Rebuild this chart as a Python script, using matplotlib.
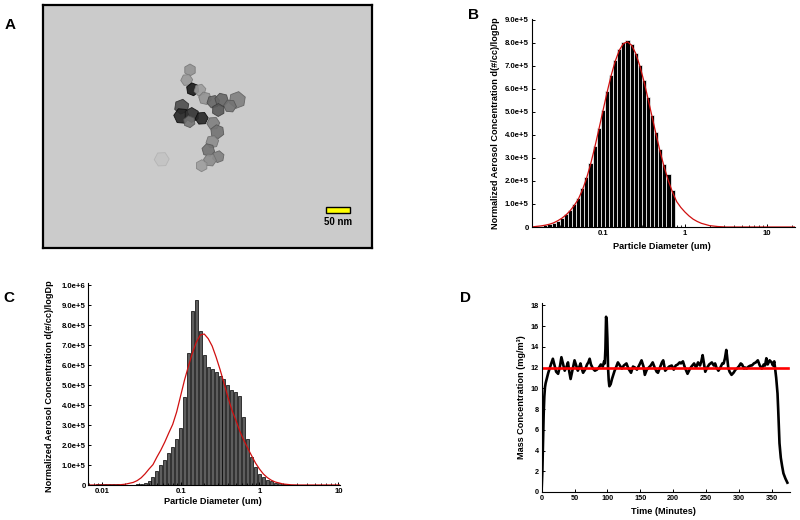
import numpy as np
import matplotlib
matplotlib.use("Agg")
import matplotlib.pyplot as plt
from matplotlib.patches import RegularPolygon, Rectangle

plt.rcParams['font.family'] = ['Liberation Sans', 'DejaVu Sans']
plt.rcParams['font.weight'] = 'bold'

# ---------------- data ----------------
# Panel A: TEM micrograph, particle aggregate (image pixel coords, size, grey level)
A_px = [147, 143.7, 149.7, 157, 162, 138.7, 138.7, 148.7, 158.7, 146.3, 170.3, 178.7,
        194.3, 187, 175.3, 170.3, 174.3, 169.3, 165.3, 175.3, 167, 158.7, 118.7]
A_py = [65, 75, 84.3, 85, 93.3, 101.7, 111, 110, 113.3, 116.7, 96.7, 95,
        95, 101, 105, 118.3, 126.7, 136.7, 145, 151.7, 155, 160.7, 154.3]
A_pd = [12, 12, 13, 12, 13, 15, 16, 15, 13, 12, 13, 14,
        17, 13, 13, 13, 14, 13, 13, 12, 13, 12, 15]
A_grey = [0.58, 0.6, 0.1, 0.62, 0.58, 0.3, 0.15, 0.2, 0.15, 0.45, 0.4, 0.4,
          0.5, 0.45, 0.35, 0.5, 0.45, 0.55, 0.45, 0.5, 0.55, 0.62, 0.74]
A_scale_text = "50 nm"

# Panel B: size distribution (log10 of bin centre diameter, um), 20 channels/decade
B_logd = np.round(np.arange(-1.80, -0.149, 0.05), 2)
B_conc = [0.03, 0.05, 0.08, 0.12, 0.19, 0.28, 0.40, 0.55, 0.74, 0.98,
          1.28, 1.68, 2.18, 2.80, 3.52, 4.30, 5.10, 5.90, 6.62, 7.25,
          7.72, 8.05, 8.12, 7.95, 7.58, 7.05, 6.40, 5.65, 4.88, 4.12,
          3.38, 2.75, 2.30, 1.62]  # x 1e5
B_fit_logd = [-1.87, -1.80, -1.75, -1.70, -1.65, -1.60, -1.55, -1.50, -1.45, -1.40,
              -1.35, -1.30, -1.25, -1.20, -1.15, -1.10, -1.05, -1.00, -0.95, -0.90,
              -0.85, -0.80, -0.75, -0.70, -0.65, -0.60, -0.55, -0.50, -0.45, -0.40,
              -0.35, -0.30, -0.25, -0.20, -0.15, -0.10, -0.05, 0.00, 0.05, 0.10,
              0.15, 0.20, 0.30, 0.40, 0.50, 1.34]
B_fit = [0.0, 0.03, 0.05, 0.08, 0.12, 0.18, 0.27, 0.38, 0.52, 0.70,
         0.93, 1.20, 1.60, 2.10, 2.72, 3.44, 4.22, 5.03, 5.83, 6.57,
         7.20, 7.68, 7.97, 8.05, 7.90, 7.55, 7.01, 6.34, 5.58, 4.79,
         4.00, 3.24, 2.57, 1.99, 1.50, 1.10, 0.85, 0.65, 0.48, 0.34,
         0.24, 0.16, 0.06, 0.02, 0.0, 0.0]

# Panel C
C_logd = np.round(np.arange(-2.05, 0.351, 0.05), 2)
C_conc = [0.05, 0.06, 0.06, 0.05, 0.05, 0.03, 0.0, 0.0, 0.0, 0.02,
          0.03, 0.06, 0.12, 0.22, 0.42, 0.68, 0.98, 1.25, 1.58, 1.92,
          2.3, 2.85, 4.4, 6.6, 8.7, 9.25, 7.7, 6.5, 5.9, 5.8,
          5.65, 5.45, 5.3, 5.0, 4.75, 4.65, 4.45, 3.4, 2.3, 1.4,
          0.9, 0.55, 0.38, 0.25, 0.18, 0.12, 0.08, 0.04, 0.02]  # x 1e5
C_fit_logd = [-2.17, -1.80, -1.70, -1.60, -1.55, -1.50, -1.45, -1.40, -1.35, -1.30,
              -1.25, -1.20, -1.15, -1.10, -1.05, -1.00, -0.95, -0.90, -0.85, -0.80,
              -0.75, -0.70, -0.65, -0.60, -0.55, -0.50, -0.45, -0.40, -0.35, -0.30,
              -0.25, -0.20, -0.15, -0.10, -0.05, 0.00, 0.05, 0.10, 0.15, 0.20,
              0.30, 0.40, 0.50, 1.02]
C_fit = [0.0, 0.0, 0.04, 0.13, 0.22, 0.36, 0.56, 0.80, 1.02, 1.40,
         1.75, 2.15, 2.60, 3.03, 3.65, 4.45, 5.25, 5.95, 6.60, 7.15,
         7.50, 7.55, 7.32, 6.95, 6.40, 5.78, 5.10, 4.40, 3.75, 3.25,
         2.70, 2.25, 1.85, 1.47, 1.10, 0.80, 0.55, 0.37, 0.24, 0.15,
         0.05, 0.01, 0.0, 0.0]

dist_xticks = [0.01, 0.1, 1, 10]
dist_xticklabels = ["0.01", "0.1", "1", "10"]
B_yticklabels = ["0", "1.0e+5", "2.0e+5", "3.0e+5", "4.0e+5", "5.0e+5",
                 "6.0e+5", "7.0e+5", "8.0e+5", "9.0e+5"]
C_yticklabels = B_yticklabels + ["1.0e+6"]

# Panel D: mass concentration time series
D_time = [0, 1, 2, 3, 4, 5, 6, 8, 10, 12,
          14, 17, 20, 22, 25, 28, 30, 33, 35, 38,
          40, 42, 44, 47, 50, 52, 55, 57, 59, 61,
          63, 66, 69, 71, 73, 75, 78, 81, 84, 87,
          90, 93, 95, 96, 97, 98, 99, 100, 101, 102,
          103, 105, 107, 109, 111, 113, 116, 119, 122, 125,
          129, 132, 136, 139, 142, 145, 149, 152, 155, 157,
          160, 163, 166, 169, 172, 175, 177, 180, 183, 185,
          188, 191, 194, 198, 201, 204, 207, 210, 212, 215,
          218, 222, 225, 228, 232, 235, 238, 241, 243, 245,
          247, 249, 252, 255, 259, 262, 264, 266, 269, 272,
          275, 277, 279, 281, 282, 284, 286, 289, 292, 295,
          297, 300, 303, 305, 308, 310, 312, 315, 318, 320,
          323, 326, 329, 332, 335, 338, 340, 342, 344, 347,
          350, 352, 354, 355, 357, 359, 360, 361, 362, 364,
          366, 368, 371, 374]
D_mass = [0.4, 2.0, 5.0, 7.5, 9.2, 10.1, 10.5, 11.0, 11.5, 11.9,
          12.3, 12.85, 12.1, 11.6, 11.4, 12.2, 13.0, 12.2, 11.7, 12.1,
          12.5, 11.6, 10.9, 11.8, 12.7, 12.3, 11.7, 12.0, 12.4, 11.9,
          11.5, 11.8, 12.3, 12.5, 12.85, 12.3, 11.9, 11.7, 11.8, 12.0,
          12.3, 12.1, 12.6, 12.4, 13.8, 16.9, 16.5, 14.8, 12.0, 10.8,
          10.2, 10.4, 10.9, 11.3, 11.7, 12.0, 12.5, 12.2, 11.9, 12.2,
          12.4, 11.9, 11.5, 12.1, 12.0, 11.8, 12.3, 12.7, 12.1, 11.3,
          11.8, 12.0, 12.2, 12.5, 12.0, 11.6, 11.5, 12.0, 12.5, 12.7,
          11.7, 11.9, 12.1, 12.2, 11.8, 12.2, 12.3, 12.5, 12.4, 12.6,
          12.0, 11.4, 11.8, 12.1, 12.4, 12.0, 12.5, 12.2, 12.6, 13.2,
          12.4, 11.6, 12.0, 12.3, 12.5, 12.2, 12.4, 12.0, 11.7, 12.0,
          12.4, 12.4, 12.9, 13.7, 13.2, 12.0, 11.6, 11.3, 11.5, 11.8,
          11.9, 12.1, 12.4, 12.3, 11.9, 12.0, 11.9, 12.1, 12.2, 12.2,
          12.4, 12.5, 12.7, 12.2, 11.9, 12.3, 12.2, 12.9, 12.3, 12.7,
          12.5, 12.2, 12.6, 12.1, 11.0, 9.5, 8.0, 6.2, 4.7, 3.3,
          2.5, 1.8, 1.3, 0.9]
D_target = 12.0
D_target_span = [0, 375]
D_xticks = [0, 50, 100, 150, 200, 250, 300, 350]
D_yticks = [0, 2, 4, 6, 8, 10, 12, 14, 16, 18]

# ---------------- figure ----------------
W, H = 800, 520
fig = plt.figure(figsize=(8, 5.2), dpi=100)


def rect(l, t, r, b):
    return [l / W, 1 - b / H, (r - l) / W, (b - t) / H]


def ftext(x, y, s, **kw):
    fig.text(x / W, 1 - y / H, s, ha='center', va='center', **kw)


# Panel A
axA = fig.add_axes(rect(43, 5, 372, 248))
axA.set_facecolor('#cbcbcb')
axA.set_xlim(0, 329)
axA.set_ylim(243, 0)
axA.set_xticks([])
axA.set_yticks([])
for s in axA.spines.values():
    s.set_linewidth(1.6)
    s.set_color('black')
for i, (x, y, d, g) in enumerate(zip(A_px, A_py, A_pd, A_grey)):
    axA.add_patch(RegularPolygon((x, y), numVertices=6, radius=d / 2,
                                 orientation=0.45 * i,
                                 facecolor=str(g), edgecolor=str(max(g - 0.12, 0)),
                                 lw=0.6, alpha=0.45 if g > 0.7 else 0.9))
axA.add_patch(Rectangle((283, 202.3), 24, 6, facecolor='#ffff00',
                        edgecolor='black', lw=1.0))
axA.text(295, 217, A_scale_text, ha='center', va='center', fontsize=7,
         fontweight='bold')


def style_axes(ax, lsize):
    ax.spines['top'].set_visible(False)
    ax.spines['right'].set_visible(False)
    for s in ('left', 'bottom'):
        ax.spines[s].set_linewidth(0.8)
    ax.tick_params(which='major', direction='in', length=2.5, width=0.7,
                   labelsize=lsize, pad=2)
    ax.tick_params(which='minor', direction='in', length=1.5, width=0.6)


def log_minor(lo, hi):
    out = []
    for e in range(lo, hi):
        for m in range(2, 10):
            out.append(m * 10.0 ** e)
    return out


# Panel B
axB = fig.add_axes(rect(531.7, 18.8, 795, 227))
axB.set_xscale('log')
bl = 10 ** (B_logd - 0.025)
br = 10 ** (B_logd + 0.025)
axB.bar(bl, B_conc, width=br - bl, align='edge', color='black',
        edgecolor='white', linewidth=0.5)
axB.plot(10 ** np.array(B_fit_logd), B_fit, color='#d01010', lw=0.9)
axB.set_xticks(dist_xticks[1:])
axB.set_xticklabels(dist_xticklabels[1:])
axB.set_xticks(log_minor(-2, 2), minor=True)
axB.set_xticklabels([], minor=True)
axB.set_yticks(range(10))
axB.set_yticklabels(B_yticklabels)
axB.set_xlim(0.0136, 21.9)
axB.set_ylim(0, 9.05)
style_axes(axB, 5.6)

# Panel C
axC = fig.add_axes(rect(88.3, 283.3, 340, 485))
axC.set_xscale('log')
cl = 10 ** (C_logd - 0.019)
cr = 10 ** (C_logd + 0.019)
axC.bar(cl, C_conc, width=cr - cl, align='edge', color='#5e5e5e',
        edgecolor='black', linewidth=0.5)
axC.plot(10 ** np.array(C_fit_logd), C_fit, color='#d01010', lw=0.9)
axC.set_xticks(dist_xticks)
axC.set_xticklabels(dist_xticklabels)
axC.set_xticks(log_minor(-3, 1), minor=True)
axC.set_xticklabels([], minor=True)
axC.set_yticks(range(11))
axC.set_yticklabels(C_yticklabels)
axC.set_xlim(0.00676, 10.5)
axC.set_ylim(0, 10.085)
style_axes(axC, 5.6)

# Panel D
axD = fig.add_axes(rect(541.7, 303.3, 790, 492))
axD.plot(D_time, D_mass, color='black', lw=1.9)
axD.plot(D_target_span, [D_target, D_target], color='#ff0000', lw=1.9)
axD.set_xticks(D_xticks)
axD.set_yticks(D_yticks)
axD.set_xlim(0, 378)
axD.set_ylim(0, 18.2)
style_axes(axD, 5.2)

# labels
lab = dict(fontsize=6.6, fontweight='bold')
ftext(495, 123, "Normalized Aerosol Concentration d(#/cc)/logDp", rotation=90, **lab)
ftext(662, 246.7, "Particle Diameter (um)", **lab)
ftext(50, 386, "Normalized Aerosol Concentration d(#/cc)/logDp", rotation=90, **lab)
ftext(213, 501.7, "Particle Diameter (um)", **lab)
ftext(521.7, 397, "Mass Concentration (mg/m\u00b3)", rotation=90, **lab)
ftext(663, 511, "Time (Minutes)", **lab)

pl = dict(fontsize=11, fontweight='bold')
ftext(10, 25, "A", **pl)
ftext(473, 15, "B", **pl)
ftext(9, 298, "C", **pl)
ftext(465, 298, "D", **pl)

fig.savefig("out.png", dpi=100)
